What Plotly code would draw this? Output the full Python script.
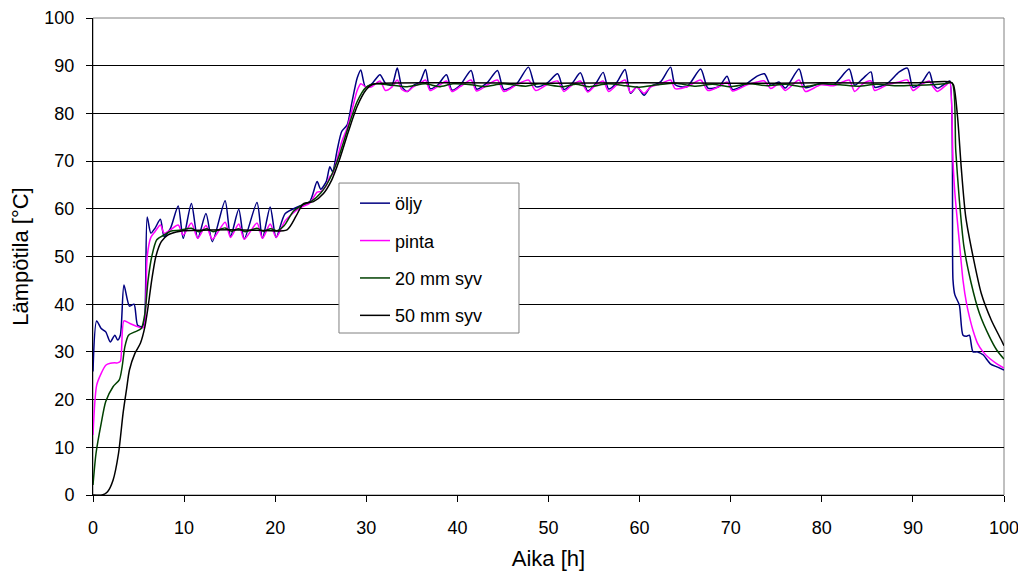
import plotly.graph_objects as go

# ---- data ----
# öljy (oil) and pinta (surface) share the same time points
t_oil = [0, 0.4, 0.9, 1.4, 1.9, 2.4, 2.7, 3.0, 3.4, 4.0, 4.5, 4.9, 5.4, 5.65, 5.95, 6.35, 6.8, 7.4, 7.8, 8.5,
         9.35, 9.9, 10.8, 11.5, 12.4, 13.1, 14.5, 15.1, 16.0, 16.6, 18.0, 18.6, 19.45, 20.1, 21.1, 22.7, 23.8,
         24.6, 25.0, 25.6, 26.0, 26.3, 26.8, 27.3, 27.9, 28.4, 29.0, 29.4, 29.9, 30.6, 31.5, 32.1, 32.8, 33.4,
         33.9, 34.5, 35.2, 35.9, 36.5, 37.0, 37.8, 38.8, 39.4, 40.3, 41.5, 42.1, 43.3, 44.4, 45.1, 46.5, 47.8,
         48.6, 49.8, 51.0, 51.7, 52.6, 53.5, 54.3, 55.2, 56.0, 56.6, 57.5, 58.4, 59.0, 59.7, 60.5, 61.2, 62.3,
         63.4, 63.9, 65.2, 66.7, 67.5, 68.7, 69.6, 70.2, 71.8, 72.9, 73.7, 74.4, 75.3, 76.0, 77.5, 78.2, 79.9,
         81.3, 83.0, 83.6, 84.5, 85.4, 85.8, 87.2, 88.5, 89.4, 90.0, 90.9, 91.8, 92.2, 92.7, 93.8, 94.05, 94.4,
         94.6, 95.1, 95.5, 95.9, 96.2, 96.6, 97.1, 97.7, 98.5, 99.3, 100]

oljy = [25.9, 36.5, 34.9, 34.2, 32.1, 33.5, 32.5, 33.5, 44.0, 39.6, 40.0, 35.6, 35.3, 36.5, 58.3, 54.9, 55.9, 57.8, 54.2, 55.9,
        60.6, 53.8, 61.1, 53.8, 59.0, 53.1, 61.7, 54.2, 59.9, 53.7, 61.3, 53.8, 60.4, 54.0, 59.0, 60.6, 61.5,
        65.7, 64.1, 65.7, 68.8, 67.8, 72.3, 76.2, 77.6, 82.1, 87.4, 89.1, 85.6, 86.2, 88.1, 86.3, 85.9, 89.5,
        85.6, 84.6, 85.9, 86.6, 89.2, 85.2, 85.9, 88.1, 84.9, 85.9, 89.0, 85.1, 86.5, 89.0, 85.0, 86.2, 89.7,
        85.6, 86.3, 88.3, 85.0, 86.3, 88.5, 84.7, 86.3, 88.6, 85.1, 86.5, 89.2, 84.2, 85.6, 83.8, 85.6, 86.6,
        89.7, 86.0, 85.6, 89.3, 85.3, 85.6, 87.8, 85.0, 86.3, 87.8, 88.3, 85.9, 86.6, 85.3, 89.3, 85.4, 86.3,
        86.0, 89.3, 85.9, 87.3, 88.7, 85.5, 86.3, 88.7, 89.5, 85.5, 86.3, 88.7, 86.3, 85.3, 86.6, 86.8, 45.1,
        42.0, 39.8, 33.5, 33.3, 33.5, 30.0, 30.0, 29.4, 27.5, 26.8, 26.2]

pinta = [12.6, 23.0, 25.5, 27.2, 27.6, 27.7, 27.7, 28.0, 36.5, 36.0, 35.6, 35.3, 35.0, 35.6, 50.0, 54.0, 55.2, 56.6, 54.9, 55.6,
         56.6, 54.5, 57.0, 53.8, 56.5, 53.6, 57.2, 54.0, 56.8, 53.6, 57.0, 53.8, 56.8, 54.0, 57.5, 60.2, 61.2,
         63.5, 63.6, 64.8, 66.8, 67.3, 70.5, 74.0, 77.0, 80.5, 84.8, 86.2, 85.6, 85.6, 86.8, 84.8, 85.5, 87.0,
         85.0, 84.6, 85.6, 86.3, 87.0, 84.8, 85.6, 86.8, 84.6, 85.6, 87.0, 84.7, 86.0, 87.0, 84.6, 86.0, 87.0,
         84.8, 86.0, 86.8, 84.6, 86.0, 86.8, 84.5, 86.0, 86.8, 84.6, 86.0, 87.0, 84.4, 85.5, 84.2, 85.5, 86.2,
         87.0, 85.2, 85.6, 87.0, 84.8, 85.6, 86.6, 84.7, 86.0, 86.6, 86.8, 85.2, 86.2, 84.8, 87.0, 84.6, 86.0,
         85.8, 87.0, 84.6, 86.2, 86.8, 84.8, 86.0, 86.6, 87.0, 84.8, 86.0, 86.8, 85.6, 84.6, 86.2, 86.5, 70.0,
         63.5, 53.0, 45.0, 40.0, 37.4, 34.5, 31.8, 30.0, 28.5, 27.4, 26.6]

t_20mm = [0, 0.33, 0.9, 1.4, 2.2, 2.9, 3.2, 3.5, 3.9, 4.6, 5.3, 5.7, 6.05, 6.45, 7.0, 7.8, 8.5, 9.5, 10.8, 11.6,
          12.5, 13.2, 14.5, 15.2, 16.0, 16.7, 18.0, 18.7, 19.5, 20.2, 21.0, 22.0, 23.0, 24.0, 25.0, 26.0, 27.0,
          28.0, 29.0, 30.0, 31.0, 32.5, 34.5, 36.5, 38.0, 39.5, 41.5, 43.0, 45.0, 47.5, 49.0, 51.5, 53.0, 54.5,
          56.5, 58.5, 60.0, 62.0, 64.0, 66.0, 68.0, 70.0, 72.0, 74.0, 76.0, 78.0, 80.0, 82.0, 84.0, 86.0, 88.0,
          90.0, 92.0, 93.5, 94.3, 94.7, 95.1, 95.6, 96.4, 97.3, 98.4, 99.2, 100]
mm20 = [2.1, 8.7, 15.0, 19.6, 22.7, 24.2, 26.9, 31.1, 33.5, 34.2, 34.9, 38.1, 45.1, 50.0, 53.5, 54.5, 55.3, 55.5, 55.9, 55.2,
        55.8, 55.2, 56.0, 55.3, 55.8, 55.2, 55.9, 55.3, 55.8, 55.4, 56.5, 59.5, 60.8, 61.6, 63.3, 66.3, 71.0,
        77.0, 82.5, 85.5, 86.2, 86.0, 85.6, 86.2, 85.6, 86.2, 86.0, 85.6, 86.2, 85.7, 86.2, 85.6, 86.1, 85.6,
        86.2, 85.8, 85.5, 86.0, 86.3, 85.7, 86.1, 85.6, 86.2, 85.8, 86.1, 85.6, 86.2, 86.0, 85.7, 86.1, 85.8,
        85.9, 86.0, 86.2, 86.4, 72.3, 61.8, 52.1, 44.4, 38.1, 33.2, 30.4, 28.5]

t_50mm = [0, 1.0, 1.6, 2.2, 2.8, 3.3, 3.7, 4.0, 4.6, 5.2, 5.7, 6.05, 6.45, 6.9, 7.5, 8.2, 9.6, 12.0, 15.0, 18.0,
          21.3, 22.3, 23.1, 24.2, 25.3, 26.2, 27.0, 28.0, 29.0, 30.0, 30.6, 31.5, 40.0, 50.0, 60.0, 70.0, 80.0,
          90.0, 94.1, 94.45, 94.9, 95.3, 95.8, 96.6, 97.5, 98.6, 99.7, 100]
mm50 = [0, 0, 0.7, 3.1, 8.7, 17.1, 22.4, 26.2, 29.7, 31.8, 35.3, 39.5, 45.1, 50.0, 53.1, 54.5, 55.3, 55.5, 55.6, 55.5,
        55.6, 58.5, 61.1, 61.5, 63.2, 66.0, 70.0, 76.0, 81.5, 85.0, 86.0, 86.3, 86.4, 86.3, 86.4, 86.3, 86.4,
        86.4, 86.6, 86.0, 79.3, 68.8, 58.3, 50.0, 42.3, 36.7, 32.5, 31.3]

series = [
    ("öljy", t_oil, oljy, "#000080"),
    ("pinta", t_oil, pinta, "#FF00FF"),
    ("20 mm syv", t_20mm, mm20, "#004000"),
    ("50 mm syv", t_50mm, mm50, "#000000"),
]

x_ticks = list(range(0, 101, 10))
y_ticks = list(range(0, 101, 10))

FONT = "Liberation Sans, Arial, sans-serif"
FS = 18

fig = go.Figure()
for i, (name, tx, ty, col) in enumerate(series):
    fig.add_trace(go.Scatter(x=tx, y=ty, name=name, mode="lines",
                             line=dict(color=col, width=1.5, shape="spline", smoothing=0.7),
                             legendgroup=f"g{i}"))

# the page body has an 8px margin, so the figure is drawn 8px in from the window corner
fig.update_layout(
    width=1018, height=568,
    margin=dict(l=85, r=22, t=10, b=81, autoexpand=False),
    plot_bgcolor="white", paper_bgcolor="white",
    font=dict(family=FONT, size=FS, color="black"),
    showlegend=True,
    legend=dict(x=0.2876, y=0.650, xanchor="left", yanchor="top",
                bgcolor="rgba(0,0,0,0)", borderwidth=0,
                font=dict(family=FONT, size=FS, color="black"),
                tracegroupgap=11, itemwidth=30),
    xaxis=dict(range=[0, 100], tickvals=x_ticks, ticks="outside", ticklen=6, tickcolor="black",
               showline=True, linecolor="black", linewidth=1, showgrid=False, zeroline=False,
               automargin=False, ticklabelstandoff=10,
               title=dict(text="Aika [h]", standoff=14), tickfont=dict(size=FS)),
    yaxis=dict(range=[0, 100], tickvals=y_ticks, ticks="outside", ticklen=6, tickcolor="black",
               showline=True, linecolor="black", linewidth=1, showgrid=True, gridcolor="black",
               gridwidth=1, zeroline=False, automargin=False, ticklabelstandoff=8,
               title=dict(text="Lämpötila [°C]", standoff=17), tickfont=dict(size=FS)),
    shapes=[
        dict(type="rect", xref="paper", yref="paper", x0=0, x1=1, y0=0, y1=1,
             line=dict(color="#808080", width=1), layer="below"),
        dict(type="rect", xref="paper", yref="paper", x0=0.270, x1=0.4676, y0=0.3396, y1=0.654,
             line=dict(color="#808080", width=1), fillcolor="white", layer="above"),
    ],
)

fig.write_html("out.html")
